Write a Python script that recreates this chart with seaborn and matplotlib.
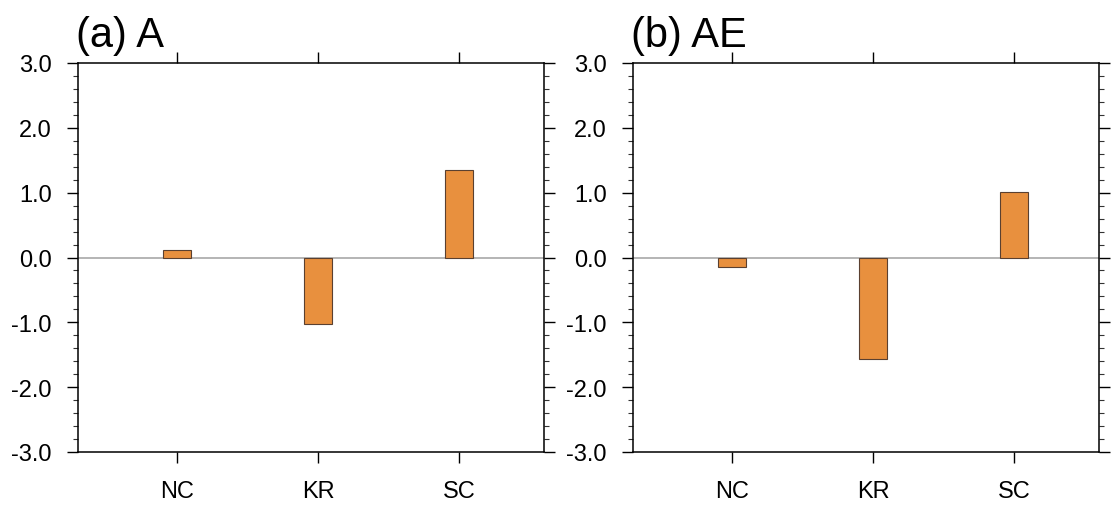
import matplotlib
matplotlib.use("Agg")
import matplotlib.pyplot as plt
import seaborn as sns
import pandas as pd
from matplotlib.ticker import MultipleLocator, FormatStrFormatter

# ---- data ----
regions = ["NC", "KR", "SC"]
values_a = [0.12, -1.02, 1.35]
values_ae = [-0.15, -1.56, 1.01]
panel_titles = ["(a) A", "(b) AE"]
y_ticks = [-3.0, -2.0, -1.0, 0.0, 1.0, 2.0, 3.0]

sns.set_theme(style="white")
plt.rcParams["font.family"] = ["Liberation Sans", "DejaVu Sans"]

fig = plt.figure(figsize=(11.12, 5.06), dpi=100)
W, H = 1112, 506
ax_a = fig.add_axes([78 / W, (H - 453) / H, 466 / W, 389 / H])
ax_b = fig.add_axes([633 / W, (H - 453) / H, 466 / W, 389 / H])

bar_color = "#E8903E"
edge_color = "#5a4030"

for ax, vals, title in zip([ax_a, ax_b], [values_a, values_ae], panel_titles):
    df = pd.DataFrame({"region": regions, "value": vals})
    ax.axhline(0, color="#a8a8a8", lw=1.2, zorder=1)
    sns.barplot(data=df, x="region", y="value", color=bar_color, saturation=1,
                width=0.2, edgecolor=edge_color, linewidth=0.8, ax=ax, zorder=2)
    ax.set_xlim(-0.7, 2.6)
    ax.set_ylim(-3, 3)
    ax.set_xlabel("")
    ax.set_ylabel("")
    ax.set_yticks(y_ticks)
    ax.yaxis.set_major_formatter(FormatStrFormatter("%.1f"))
    ax.yaxis.set_minor_locator(MultipleLocator(0.2))
    ax.tick_params(axis="y", which="major", direction="out", length=8, width=1.0,
                   left=True, right=True, labelleft=True, labelright=False,
                   labelsize=17, pad=11, color="black", labelcolor="black")
    ax.tick_params(axis="y", which="minor", direction="out", length=3.8, width=0.8,
                   left=True, right=True, color="#333333")
    ax.tick_params(axis="x", which="major", direction="out", length=8, width=1.0,
                   bottom=True, top=True, labelbottom=True, labeltop=False,
                   labelsize=17, pad=12, color="black", labelcolor="black")
    for s in ax.spines.values():
        s.set_visible(True)
        s.set_color("black")
        s.set_linewidth(1.1)
    ax.text(-0.004, 1.044, title, transform=ax.transAxes, fontsize=30,
            ha="left", va="baseline", color="black")

fig.savefig("out.png", dpi=100)
